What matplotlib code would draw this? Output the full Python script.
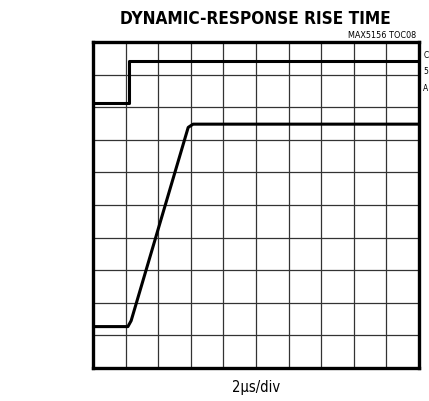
import matplotlib
matplotlib.use('Agg')
import matplotlib.pyplot as plt

# scope traces, in divisions (10 x 10 graticule)
top_x = [0.0, 1.1, 1.1, 9.9]
top_y = [8.13, 8.13, 9.42, 9.42]
out_x = [0.0, 1.07, 1.17, 2.92, 3.07, 10.0]
out_y = [1.27, 1.27, 1.45, 7.38, 7.48, 7.48]

title = 'DYNAMIC-RESPONSE RISE TIME'
tag = 'MAX5156 TOC08'
xlabel = '2\u00b5s/div'
side_labels = ['C', '5', 'A']

fnt = dict(family='DejaVu Sans', stretch='condensed')

fig = plt.figure(figsize=(4.29, 4.02), dpi=100)
ax = fig.add_axes([93/429, 33/402, 326/429, 326/402])
ax.set_xlim(0, 10)
ax.set_ylim(0, 10)
for k in range(1, 10):
    ax.axvline(k, color='#333333', lw=0.9, zorder=1)
    ax.axhline(k, color='#333333', lw=0.9, zorder=1)
ax.plot(top_x, top_y, color='black', lw=2.2, solid_joinstyle='round', zorder=3)
ax.plot(out_x, out_y, color='black', lw=2.2, solid_joinstyle='round', zorder=3)
ax.set_xticks([])
ax.set_yticks([])
for s in ax.spines.values():
    s.set_linewidth(2.4)

fig.text(255/429, 1 - 18.5/402, title, ha='center', va='center',
         fontsize=12.3, fontweight='bold', **fnt)
fig.text(416/429, 1 - 36/402, tag, ha='right', va='center',
         fontsize=6.5, **fnt)
fig.text(256/429, 1 - 388/402, xlabel, ha='center', va='center',
         fontsize=10.5, **fnt)
for i, lab in enumerate(side_labels):
    fig.text(428.5/429, 1 - (55 + i * 17)/402, lab, ha='right', va='center',
             fontsize=6, **fnt)

fig.savefig('out.png', dpi=100)
